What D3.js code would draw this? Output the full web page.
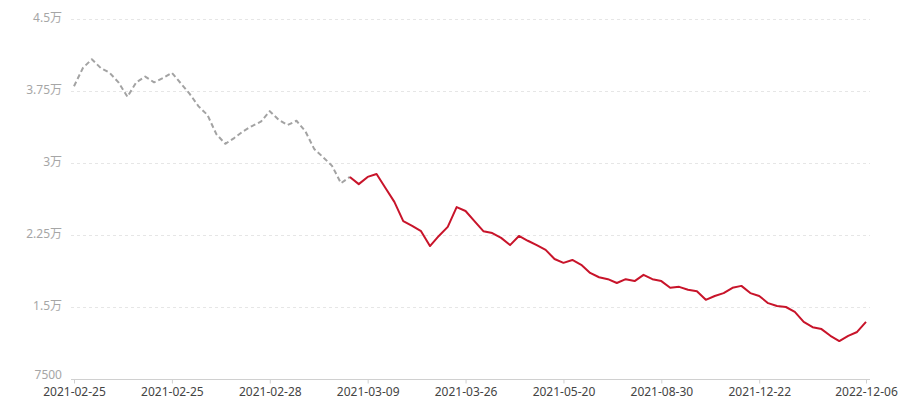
<!DOCTYPE html>
<html>
<head>
<meta charset="utf-8">
<script src="https://cdn.jsdelivr.net/npm/d3@7"></script>
<style>
  html, body { margin: 0; padding: 0; background: #fff; }
  svg { display: block; font-family: "Noto Sans", "Noto Sans CJK SC", sans-serif; }
</style>
</head>
<body>
<svg id="chart" width="900" height="400"></svg>
<script>
// ---- data ----
// historical (gray dashed) values, indices 0..31
const historyValues = [
  38000, 39900, 40800, 39900, 39400, 38400, 36900, 38400, 39000, 38400,
  38850, 39400, 38300, 37200, 35900, 35000, 33000, 32000, 32600, 33300,
  33850, 34300, 35400, 34500, 33950, 34400, 33300, 31450, 30600, 29700,
  27900, 28550
];
// recent (red) values, indices 31..89
const recentValues = [
  28550, 27800, 28550, 28850, 27400, 25950, 23950, 23450, 22900, 21350,
  22400, 23350, 25400, 25000, 23950, 22900, 22700, 22200, 21450, 22400,
  21900, 21450, 20950, 20000, 19600, 19900, 19400, 18550, 18100, 17900,
  17500, 17900, 17700, 18350, 17900, 17700, 17000, 17100, 16800, 16650,
  15750, 16150, 16450, 17000, 17200, 16450, 16150, 15400, 15100, 15000,
  14500, 13450, 12900, 12700, 12000, 11450, 12000, 12400, 13450
];
const recentStart = 31;
const tickIndices = [0, 11, 22, 33, 44, 55, 66, 77, 89];
const tickLabels = ["2021-02-25", "2021-02-25", "2021-02-28", "2021-03-09", "2021-03-26",
                    "2021-05-20", "2021-08-30", "2021-12-22", "2022-12-06"];
const yTicks = [7500, 15000, 22500, 30000, 37500, 45000];
const yTickLabels = ["7500", "1.5万", "2.25万", "3万", "3.75万", "4.5万"];

// ---- drawing ----
const svg = d3.select("#chart");
const total = recentStart + recentValues.length;
const indices = d3.range(total);

const x = d3.scalePoint().domain(indices).range([74, 866]);
const y = d3.scaleLinear().domain([7500, 45000]).range([379, 19]);
const plotLeft = 71, plotRight = 870;

// grid lines
svg.append("g").selectAll("line")
  .data(yTicks.slice(1))
  .join("line")
  .attr("x1", plotLeft).attr("x2", plotRight)
  .attr("y1", d => y(d) + 0.5).attr("y2", d => y(d) + 0.5)
  .attr("stroke", "#e6e6e6").attr("stroke-width", 1)
  .attr("stroke-dasharray", "3,3");

// y labels
svg.append("g").selectAll("text")
  .data(yTicks)
  .join("text")
  .attr("x", 62)
  .attr("y", (d, i) => y(d) - (i === 0 ? 4 : 1.5))
  .attr("dy", "0.35em")
  .attr("text-anchor", "end")
  .attr("font-size", 12)
  .attr("fill", "#a6a6a6")
  .text((d, i) => yTickLabels[i]);

// x axis
const xAxis = d3.axisBottom(x)
  .tickValues(tickIndices)
  .tickFormat(d => tickLabels[tickIndices.indexOf(d)])
  .tickSizeOuter(0)
  .tickSizeInner(4)
  .tickPadding(4);
const gx = svg.append("g").attr("transform", "translate(0,379.5)").call(xAxis);
gx.select(".domain").remove();
gx.insert("line", ":first-child")
  .attr("x1", plotLeft).attr("x2", plotRight)
  .attr("y1", 0).attr("y2", 0)
  .attr("stroke", "#d0d0d0").attr("stroke-width", 1);
gx.selectAll(".tick line").attr("stroke", "#d0d0d0");
gx.selectAll(".tick text")
  .attr("font-size", 12)
  .attr("fill", "#444")
  .attr("font-family", "'Noto Sans', 'Noto Sans CJK SC', sans-serif");

// lines
const line = d3.line()
  .x(d => x(d.i))
  .y(d => y(d.v));

const histData = historyValues.map((v, i) => ({ i, v }));
const recData = recentValues.map((v, k) => ({ i: recentStart + k, v }));

svg.append("path")
  .datum(histData)
  .attr("d", line)
  .attr("fill", "none")
  .attr("stroke", "#a3a3a3")
  .attr("stroke-width", 2)
  .attr("stroke-dasharray", "5,3")
  .attr("stroke-linejoin", "round");

svg.append("path")
  .datum(recData)
  .attr("d", line)
  .attr("fill", "none")
  .attr("stroke", "#c8142a")
  .attr("stroke-width", 2)
  .attr("stroke-linejoin", "round");
</script>
</body>
</html>
